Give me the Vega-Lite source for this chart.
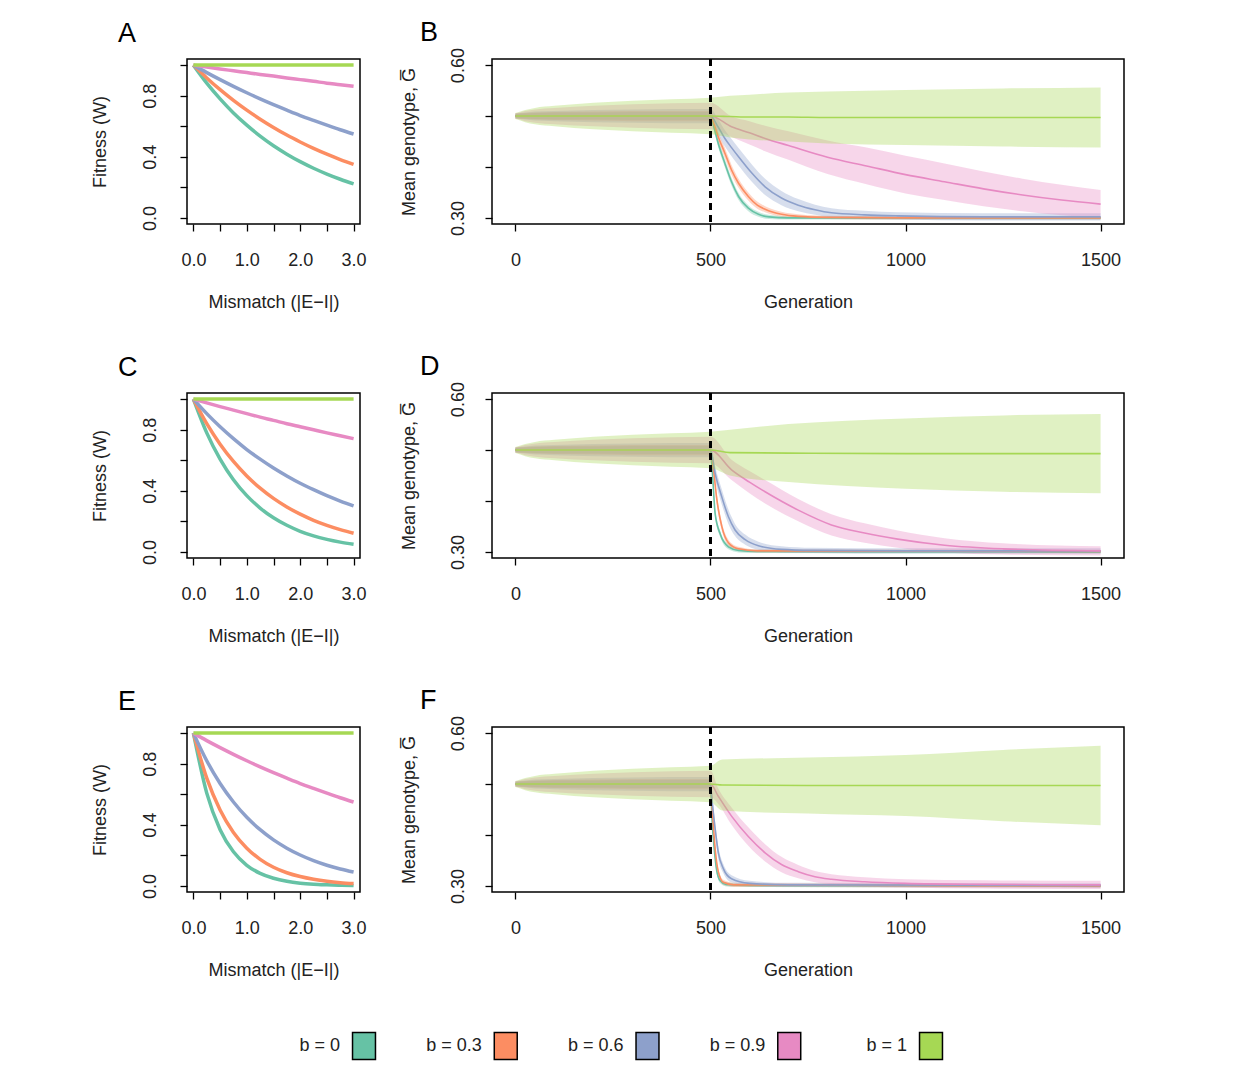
{
  "$schema": "https://vega.github.io/schema/vega-lite/v6.json",
  "background": "white",
  "padding": {"left": 90, "top": 17, "right": 0, "bottom": 0},
  "spacing": 972,
  "bounds": "flush",
  "datasets": {
    "fit": [
      {"p":"A","b":"b = 0","m":0,"w":1},{"p":"A","b":"b = 0","m":0.25,"w":0.882},{"p":"A","b":"b = 0","m":0.5,"w":0.779},{"p":"A","b":"b = 0","m":0.75,"w":0.687},{"p":"A","b":"b = 0","m":1,"w":0.607},{"p":"A","b":"b = 0","m":1.25,"w":0.535},{"p":"A","b":"b = 0","m":1.5,"w":0.472},{"p":"A","b":"b = 0","m":1.75,"w":0.417},{"p":"A","b":"b = 0","m":2,"w":0.368},{"p":"A","b":"b = 0","m":2.25,"w":0.325},{"p":"A","b":"b = 0","m":2.5,"w":0.287},{"p":"A","b":"b = 0","m":2.75,"w":0.253},{"p":"A","b":"b = 0","m":3,"w":0.223},
      {"p":"A","b":"b = 0.3","m":0,"w":1},{"p":"A","b":"b = 0.3","m":0.25,"w":0.916},{"p":"A","b":"b = 0.3","m":0.5,"w":0.839},{"p":"A","b":"b = 0.3","m":0.75,"w":0.769},{"p":"A","b":"b = 0.3","m":1,"w":0.705},{"p":"A","b":"b = 0.3","m":1.25,"w":0.646},{"p":"A","b":"b = 0.3","m":1.5,"w":0.592},{"p":"A","b":"b = 0.3","m":1.75,"w":0.542},{"p":"A","b":"b = 0.3","m":2,"w":0.497},{"p":"A","b":"b = 0.3","m":2.25,"w":0.455},{"p":"A","b":"b = 0.3","m":2.5,"w":0.417},{"p":"A","b":"b = 0.3","m":2.75,"w":0.382},{"p":"A","b":"b = 0.3","m":3,"w":0.35},
      {"p":"A","b":"b = 0.6","m":0,"w":1},{"p":"A","b":"b = 0.6","m":0.25,"w":0.951},{"p":"A","b":"b = 0.6","m":0.5,"w":0.905},{"p":"A","b":"b = 0.6","m":0.75,"w":0.861},{"p":"A","b":"b = 0.6","m":1,"w":0.819},{"p":"A","b":"b = 0.6","m":1.25,"w":0.779},{"p":"A","b":"b = 0.6","m":1.5,"w":0.741},{"p":"A","b":"b = 0.6","m":1.75,"w":0.705},{"p":"A","b":"b = 0.6","m":2,"w":0.67},{"p":"A","b":"b = 0.6","m":2.25,"w":0.638},{"p":"A","b":"b = 0.6","m":2.5,"w":0.607},{"p":"A","b":"b = 0.6","m":2.75,"w":0.577},{"p":"A","b":"b = 0.6","m":3,"w":0.549},
      {"p":"A","b":"b = 0.9","m":0,"w":1},{"p":"A","b":"b = 0.9","m":0.25,"w":0.988},{"p":"A","b":"b = 0.9","m":0.5,"w":0.975},{"p":"A","b":"b = 0.9","m":0.75,"w":0.963},{"p":"A","b":"b = 0.9","m":1,"w":0.951},{"p":"A","b":"b = 0.9","m":1.25,"w":0.939},{"p":"A","b":"b = 0.9","m":1.5,"w":0.928},{"p":"A","b":"b = 0.9","m":1.75,"w":0.916},{"p":"A","b":"b = 0.9","m":2,"w":0.905},{"p":"A","b":"b = 0.9","m":2.25,"w":0.894},{"p":"A","b":"b = 0.9","m":2.5,"w":0.882},{"p":"A","b":"b = 0.9","m":2.75,"w":0.872},{"p":"A","b":"b = 0.9","m":3,"w":0.861},
      {"p":"A","b":"b = 1","m":0,"w":1},{"p":"A","b":"b = 1","m":1,"w":1},{"p":"A","b":"b = 1","m":2,"w":1},{"p":"A","b":"b = 1","m":3,"w":1},
      {"p":"C","b":"b = 0","m":0,"w":1},{"p":"C","b":"b = 0","m":0.25,"w":0.779},{"p":"C","b":"b = 0","m":0.5,"w":0.607},{"p":"C","b":"b = 0","m":0.75,"w":0.472},{"p":"C","b":"b = 0","m":1,"w":0.368},{"p":"C","b":"b = 0","m":1.25,"w":0.287},{"p":"C","b":"b = 0","m":1.5,"w":0.223},{"p":"C","b":"b = 0","m":1.75,"w":0.174},{"p":"C","b":"b = 0","m":2,"w":0.135},{"p":"C","b":"b = 0","m":2.25,"w":0.105},{"p":"C","b":"b = 0","m":2.5,"w":0.082},{"p":"C","b":"b = 0","m":2.75,"w":0.064},{"p":"C","b":"b = 0","m":3,"w":0.05},
      {"p":"C","b":"b = 0.3","m":0,"w":1},{"p":"C","b":"b = 0.3","m":0.25,"w":0.839},{"p":"C","b":"b = 0.3","m":0.5,"w":0.705},{"p":"C","b":"b = 0.3","m":0.75,"w":0.592},{"p":"C","b":"b = 0.3","m":1,"w":0.497},{"p":"C","b":"b = 0.3","m":1.25,"w":0.417},{"p":"C","b":"b = 0.3","m":1.5,"w":0.35},{"p":"C","b":"b = 0.3","m":1.75,"w":0.294},{"p":"C","b":"b = 0.3","m":2,"w":0.247},{"p":"C","b":"b = 0.3","m":2.25,"w":0.207},{"p":"C","b":"b = 0.3","m":2.5,"w":0.174},{"p":"C","b":"b = 0.3","m":2.75,"w":0.146},{"p":"C","b":"b = 0.3","m":3,"w":0.122},
      {"p":"C","b":"b = 0.6","m":0,"w":1},{"p":"C","b":"b = 0.6","m":0.25,"w":0.905},{"p":"C","b":"b = 0.6","m":0.5,"w":0.819},{"p":"C","b":"b = 0.6","m":0.75,"w":0.741},{"p":"C","b":"b = 0.6","m":1,"w":0.67},{"p":"C","b":"b = 0.6","m":1.25,"w":0.607},{"p":"C","b":"b = 0.6","m":1.5,"w":0.549},{"p":"C","b":"b = 0.6","m":1.75,"w":0.497},{"p":"C","b":"b = 0.6","m":2,"w":0.449},{"p":"C","b":"b = 0.6","m":2.25,"w":0.407},{"p":"C","b":"b = 0.6","m":2.5,"w":0.368},{"p":"C","b":"b = 0.6","m":2.75,"w":0.333},{"p":"C","b":"b = 0.6","m":3,"w":0.301},
      {"p":"C","b":"b = 0.9","m":0,"w":1},{"p":"C","b":"b = 0.9","m":0.25,"w":0.975},{"p":"C","b":"b = 0.9","m":0.5,"w":0.951},{"p":"C","b":"b = 0.9","m":0.75,"w":0.928},{"p":"C","b":"b = 0.9","m":1,"w":0.905},{"p":"C","b":"b = 0.9","m":1.25,"w":0.882},{"p":"C","b":"b = 0.9","m":1.5,"w":0.861},{"p":"C","b":"b = 0.9","m":1.75,"w":0.839},{"p":"C","b":"b = 0.9","m":2,"w":0.819},{"p":"C","b":"b = 0.9","m":2.25,"w":0.799},{"p":"C","b":"b = 0.9","m":2.5,"w":0.779},{"p":"C","b":"b = 0.9","m":2.75,"w":0.76},{"p":"C","b":"b = 0.9","m":3,"w":0.741},
      {"p":"C","b":"b = 1","m":0,"w":1},{"p":"C","b":"b = 1","m":1,"w":1},{"p":"C","b":"b = 1","m":2,"w":1},{"p":"C","b":"b = 1","m":3,"w":1},
      {"p":"E","b":"b = 0","m":0,"w":1},{"p":"E","b":"b = 0","m":0.25,"w":0.607},{"p":"E","b":"b = 0","m":0.5,"w":0.368},{"p":"E","b":"b = 0","m":0.75,"w":0.223},{"p":"E","b":"b = 0","m":1,"w":0.135},{"p":"E","b":"b = 0","m":1.25,"w":0.082},{"p":"E","b":"b = 0","m":1.5,"w":0.05},{"p":"E","b":"b = 0","m":1.75,"w":0.03},{"p":"E","b":"b = 0","m":2,"w":0.018},{"p":"E","b":"b = 0","m":2.25,"w":0.011},{"p":"E","b":"b = 0","m":2.5,"w":0.007},{"p":"E","b":"b = 0","m":2.75,"w":0.004},{"p":"E","b":"b = 0","m":3,"w":0.002},
      {"p":"E","b":"b = 0.3","m":0,"w":1},{"p":"E","b":"b = 0.3","m":0.25,"w":0.705},{"p":"E","b":"b = 0.3","m":0.5,"w":0.497},{"p":"E","b":"b = 0.3","m":0.75,"w":0.35},{"p":"E","b":"b = 0.3","m":1,"w":0.247},{"p":"E","b":"b = 0.3","m":1.25,"w":0.174},{"p":"E","b":"b = 0.3","m":1.5,"w":0.122},{"p":"E","b":"b = 0.3","m":1.75,"w":0.086},{"p":"E","b":"b = 0.3","m":2,"w":0.061},{"p":"E","b":"b = 0.3","m":2.25,"w":0.043},{"p":"E","b":"b = 0.3","m":2.5,"w":0.03},{"p":"E","b":"b = 0.3","m":2.75,"w":0.021},{"p":"E","b":"b = 0.3","m":3,"w":0.015},
      {"p":"E","b":"b = 0.6","m":0,"w":1},{"p":"E","b":"b = 0.6","m":0.25,"w":0.819},{"p":"E","b":"b = 0.6","m":0.5,"w":0.67},{"p":"E","b":"b = 0.6","m":0.75,"w":0.549},{"p":"E","b":"b = 0.6","m":1,"w":0.449},{"p":"E","b":"b = 0.6","m":1.25,"w":0.368},{"p":"E","b":"b = 0.6","m":1.5,"w":0.301},{"p":"E","b":"b = 0.6","m":1.75,"w":0.247},{"p":"E","b":"b = 0.6","m":2,"w":0.202},{"p":"E","b":"b = 0.6","m":2.25,"w":0.165},{"p":"E","b":"b = 0.6","m":2.5,"w":0.135},{"p":"E","b":"b = 0.6","m":2.75,"w":0.111},{"p":"E","b":"b = 0.6","m":3,"w":0.091},
      {"p":"E","b":"b = 0.9","m":0,"w":1},{"p":"E","b":"b = 0.9","m":0.25,"w":0.951},{"p":"E","b":"b = 0.9","m":0.5,"w":0.905},{"p":"E","b":"b = 0.9","m":0.75,"w":0.861},{"p":"E","b":"b = 0.9","m":1,"w":0.819},{"p":"E","b":"b = 0.9","m":1.25,"w":0.779},{"p":"E","b":"b = 0.9","m":1.5,"w":0.741},{"p":"E","b":"b = 0.9","m":1.75,"w":0.705},{"p":"E","b":"b = 0.9","m":2,"w":0.67},{"p":"E","b":"b = 0.9","m":2.25,"w":0.638},{"p":"E","b":"b = 0.9","m":2.5,"w":0.607},{"p":"E","b":"b = 0.9","m":2.75,"w":0.577},{"p":"E","b":"b = 0.9","m":3,"w":0.549},
      {"p":"E","b":"b = 1","m":0,"w":1},{"p":"E","b":"b = 1","m":1,"w":1},{"p":"E","b":"b = 1","m":2,"w":1},{"p":"E","b":"b = 1","m":3,"w":1}
    ],
    "ts": [
      {"p":"all","b":"b = 0","g":0,"y":0.5,"lo":0.496,"hi":0.504},{"p":"all","b":"b = 0","g":25,"y":0.5,"lo":0.495,"hi":0.505},{"p":"all","b":"b = 0","g":50,"y":0.5,"lo":0.494,"hi":0.506},{"p":"all","b":"b = 0","g":100,"y":0.5,"lo":0.493,"hi":0.507},{"p":"all","b":"b = 0","g":200,"y":0.5,"lo":0.493,"hi":0.507},{"p":"all","b":"b = 0","g":300,"y":0.5,"lo":0.492,"hi":0.508},{"p":"all","b":"b = 0","g":400,"y":0.5,"lo":0.492,"hi":0.508},{"p":"all","b":"b = 0","g":500,"y":0.5,"lo":0.492,"hi":0.508},
      {"p":"all","b":"b = 0.3","g":0,"y":0.5,"lo":0.495,"hi":0.505},{"p":"all","b":"b = 0.3","g":25,"y":0.5,"lo":0.494,"hi":0.506},{"p":"all","b":"b = 0.3","g":50,"y":0.5,"lo":0.493,"hi":0.507},{"p":"all","b":"b = 0.3","g":100,"y":0.5,"lo":0.492,"hi":0.508},{"p":"all","b":"b = 0.3","g":200,"y":0.5,"lo":0.491,"hi":0.509},{"p":"all","b":"b = 0.3","g":300,"y":0.5,"lo":0.49,"hi":0.51},{"p":"all","b":"b = 0.3","g":400,"y":0.5,"lo":0.49,"hi":0.51},{"p":"all","b":"b = 0.3","g":500,"y":0.5,"lo":0.49,"hi":0.51},
      {"p":"all","b":"b = 0.6","g":0,"y":0.5,"lo":0.495,"hi":0.505},{"p":"all","b":"b = 0.6","g":25,"y":0.5,"lo":0.493,"hi":0.507},{"p":"all","b":"b = 0.6","g":50,"y":0.5,"lo":0.491,"hi":0.509},{"p":"all","b":"b = 0.6","g":100,"y":0.5,"lo":0.49,"hi":0.51},{"p":"all","b":"b = 0.6","g":200,"y":0.5,"lo":0.488,"hi":0.512},{"p":"all","b":"b = 0.6","g":300,"y":0.5,"lo":0.487,"hi":0.513},{"p":"all","b":"b = 0.6","g":400,"y":0.5,"lo":0.486,"hi":0.514},{"p":"all","b":"b = 0.6","g":500,"y":0.5,"lo":0.486,"hi":0.514},
      {"p":"all","b":"b = 0.9","g":0,"y":0.5,"lo":0.495,"hi":0.505},{"p":"all","b":"b = 0.9","g":25,"y":0.5,"lo":0.49,"hi":0.51},{"p":"all","b":"b = 0.9","g":50,"y":0.5,"lo":0.487,"hi":0.513},{"p":"all","b":"b = 0.9","g":100,"y":0.5,"lo":0.484,"hi":0.516},{"p":"all","b":"b = 0.9","g":200,"y":0.5,"lo":0.48,"hi":0.52},{"p":"all","b":"b = 0.9","g":300,"y":0.5,"lo":0.477,"hi":0.523},{"p":"all","b":"b = 0.9","g":400,"y":0.5,"lo":0.475,"hi":0.525},{"p":"all","b":"b = 0.9","g":500,"y":0.5,"lo":0.474,"hi":0.526},
      {"p":"all","b":"b = 1","g":0,"y":0.5,"lo":0.494,"hi":0.506},{"p":"all","b":"b = 1","g":25,"y":0.5,"lo":0.488,"hi":0.512},{"p":"all","b":"b = 1","g":50,"y":0.5,"lo":0.484,"hi":0.516},{"p":"all","b":"b = 1","g":100,"y":0.5,"lo":0.48,"hi":0.52},{"p":"all","b":"b = 1","g":200,"y":0.5,"lo":0.474,"hi":0.526},{"p":"all","b":"b = 1","g":300,"y":0.5,"lo":0.47,"hi":0.53},{"p":"all","b":"b = 1","g":400,"y":0.5,"lo":0.467,"hi":0.533},{"p":"all","b":"b = 1","g":500,"y":0.5,"lo":0.464,"hi":0.536},

      {"p":"B","b":"b = 0","g":510,"y":0.475,"lo":0.467,"hi":0.483},{"p":"B","b":"b = 0","g":520,"y":0.446,"lo":0.438,"hi":0.454},{"p":"B","b":"b = 0","g":537,"y":0.407,"lo":0.399,"hi":0.415},{"p":"B","b":"b = 0","g":554,"y":0.371,"lo":0.363,"hi":0.379},{"p":"B","b":"b = 0","g":572,"y":0.342,"lo":0.335,"hi":0.349},{"p":"B","b":"b = 0","g":597,"y":0.319,"lo":0.313,"hi":0.325},{"p":"B","b":"b = 0","g":623,"y":0.307,"lo":0.302,"hi":0.312},{"p":"B","b":"b = 0","g":650,"y":0.302,"lo":0.298,"hi":0.306},{"p":"B","b":"b = 0","g":700,"y":0.3,"lo":0.297,"hi":0.303},{"p":"B","b":"b = 0","g":1000,"y":0.3,"lo":0.297,"hi":0.303},{"p":"B","b":"b = 0","g":1500,"y":0.3,"lo":0.297,"hi":0.303},
      {"p":"B","b":"b = 0.3","g":510,"y":0.482,"lo":0.472,"hi":0.492},{"p":"B","b":"b = 0.3","g":520,"y":0.459,"lo":0.449,"hi":0.469},{"p":"B","b":"b = 0.3","g":537,"y":0.427,"lo":0.417,"hi":0.437},{"p":"B","b":"b = 0.3","g":554,"y":0.394,"lo":0.384,"hi":0.404},{"p":"B","b":"b = 0.3","g":572,"y":0.368,"lo":0.359,"hi":0.377},{"p":"B","b":"b = 0.3","g":597,"y":0.342,"lo":0.334,"hi":0.35},{"p":"B","b":"b = 0.3","g":620,"y":0.325,"lo":0.318,"hi":0.332},{"p":"B","b":"b = 0.3","g":640,"y":0.317,"lo":0.311,"hi":0.323},{"p":"B","b":"b = 0.3","g":682,"y":0.307,"lo":0.302,"hi":0.312},{"p":"B","b":"b = 0.3","g":725,"y":0.303,"lo":0.299,"hi":0.307},{"p":"B","b":"b = 0.3","g":800,"y":0.301,"lo":0.298,"hi":0.304},{"p":"B","b":"b = 0.3","g":1000,"y":0.3,"lo":0.297,"hi":0.303},{"p":"B","b":"b = 0.3","g":1500,"y":0.3,"lo":0.297,"hi":0.303},
      {"p":"B","b":"b = 0.6","g":520,"y":0.478,"lo":0.463,"hi":0.493},{"p":"B","b":"b = 0.6","g":537,"y":0.456,"lo":0.44,"hi":0.472},{"p":"B","b":"b = 0.6","g":554,"y":0.438,"lo":0.421,"hi":0.455},{"p":"B","b":"b = 0.6","g":572,"y":0.42,"lo":0.403,"hi":0.437},{"p":"B","b":"b = 0.6","g":606,"y":0.388,"lo":0.371,"hi":0.405},{"p":"B","b":"b = 0.6","g":640,"y":0.361,"lo":0.345,"hi":0.377},{"p":"B","b":"b = 0.6","g":682,"y":0.339,"lo":0.325,"hi":0.353},{"p":"B","b":"b = 0.6","g":725,"y":0.325,"lo":0.313,"hi":0.337},{"p":"B","b":"b = 0.6","g":768,"y":0.316,"lo":0.306,"hi":0.326},{"p":"B","b":"b = 0.6","g":810,"y":0.31,"lo":0.301,"hi":0.319},{"p":"B","b":"b = 0.6","g":895,"y":0.306,"lo":0.298,"hi":0.314},{"p":"B","b":"b = 0.6","g":980,"y":0.304,"lo":0.297,"hi":0.311},{"p":"B","b":"b = 0.6","g":1200,"y":0.302,"lo":0.295,"hi":0.309},{"p":"B","b":"b = 0.6","g":1500,"y":0.302,"lo":0.295,"hi":0.309},
      {"p":"B","b":"b = 0.9","g":554,"y":0.479,"lo":0.459,"hi":0.499},{"p":"B","b":"b = 0.9","g":600,"y":0.467,"lo":0.444,"hi":0.49},{"p":"B","b":"b = 0.9","g":640,"y":0.456,"lo":0.431,"hi":0.481},{"p":"B","b":"b = 0.9","g":700,"y":0.442,"lo":0.414,"hi":0.47},{"p":"B","b":"b = 0.9","g":800,"y":0.419,"lo":0.386,"hi":0.452},{"p":"B","b":"b = 0.9","g":900,"y":0.402,"lo":0.366,"hi":0.438},{"p":"B","b":"b = 0.9","g":1000,"y":0.385,"lo":0.348,"hi":0.422},{"p":"B","b":"b = 0.9","g":1100,"y":0.371,"lo":0.335,"hi":0.407},{"p":"B","b":"b = 0.9","g":1200,"y":0.357,"lo":0.323,"hi":0.391},{"p":"B","b":"b = 0.9","g":1300,"y":0.345,"lo":0.313,"hi":0.377},{"p":"B","b":"b = 0.9","g":1400,"y":0.335,"lo":0.305,"hi":0.365},{"p":"B","b":"b = 0.9","g":1500,"y":0.327,"lo":0.299,"hi":0.355},
      {"p":"B","b":"b = 1","g":550,"y":0.499,"lo":0.458,"hi":0.54},{"p":"B","b":"b = 1","g":600,"y":0.498,"lo":0.454,"hi":0.542},{"p":"B","b":"b = 1","g":700,"y":0.498,"lo":0.45,"hi":0.546},{"p":"B","b":"b = 1","g":800,"y":0.497,"lo":0.446,"hi":0.548},{"p":"B","b":"b = 1","g":1000,"y":0.497,"lo":0.443,"hi":0.551},{"p":"B","b":"b = 1","g":1250,"y":0.497,"lo":0.44,"hi":0.554},{"p":"B","b":"b = 1","g":1500,"y":0.497,"lo":0.438,"hi":0.556},

      {"p":"D","b":"b = 0","g":505,"y":0.455,"lo":0.447,"hi":0.463},{"p":"D","b":"b = 0","g":512,"y":0.375,"lo":0.367,"hi":0.383},{"p":"D","b":"b = 0","g":525,"y":0.335,"lo":0.329,"hi":0.341},{"p":"D","b":"b = 0","g":546,"y":0.31,"lo":0.305,"hi":0.315},{"p":"D","b":"b = 0","g":572,"y":0.303,"lo":0.299,"hi":0.307},{"p":"D","b":"b = 0","g":620,"y":0.301,"lo":0.298,"hi":0.304},{"p":"D","b":"b = 0","g":1500,"y":0.3,"lo":0.297,"hi":0.303},
      {"p":"D","b":"b = 0.3","g":508,"y":0.46,"lo":0.45,"hi":0.47},{"p":"D","b":"b = 0.3","g":516,"y":0.405,"lo":0.395,"hi":0.415},{"p":"D","b":"b = 0.3","g":529,"y":0.35,"lo":0.342,"hi":0.358},{"p":"D","b":"b = 0.3","g":546,"y":0.318,"lo":0.312,"hi":0.324},{"p":"D","b":"b = 0.3","g":572,"y":0.306,"lo":0.302,"hi":0.31},{"p":"D","b":"b = 0.3","g":620,"y":0.302,"lo":0.299,"hi":0.305},{"p":"D","b":"b = 0.3","g":1500,"y":0.301,"lo":0.298,"hi":0.304},
      {"p":"D","b":"b = 0.6","g":512,"y":0.454,"lo":0.44,"hi":0.468},{"p":"D","b":"b = 0.6","g":529,"y":0.408,"lo":0.393,"hi":0.423},{"p":"D","b":"b = 0.6","g":546,"y":0.369,"lo":0.355,"hi":0.383},{"p":"D","b":"b = 0.6","g":563,"y":0.343,"lo":0.331,"hi":0.355},{"p":"D","b":"b = 0.6","g":589,"y":0.324,"lo":0.314,"hi":0.334},{"p":"D","b":"b = 0.6","g":623,"y":0.312,"lo":0.304,"hi":0.32},{"p":"D","b":"b = 0.6","g":682,"y":0.305,"lo":0.299,"hi":0.311},{"p":"D","b":"b = 0.6","g":760,"y":0.303,"lo":0.298,"hi":0.308},{"p":"D","b":"b = 0.6","g":1000,"y":0.302,"lo":0.297,"hi":0.307},{"p":"D","b":"b = 0.6","g":1500,"y":0.302,"lo":0.297,"hi":0.307},
      {"p":"D","b":"b = 0.9","g":554,"y":0.461,"lo":0.441,"hi":0.481},{"p":"D","b":"b = 0.9","g":600,"y":0.437,"lo":0.415,"hi":0.459},{"p":"D","b":"b = 0.9","g":640,"y":0.418,"lo":0.395,"hi":0.441},{"p":"D","b":"b = 0.9","g":725,"y":0.382,"lo":0.36,"hi":0.404},{"p":"D","b":"b = 0.9","g":810,"y":0.353,"lo":0.332,"hi":0.374},{"p":"D","b":"b = 0.9","g":895,"y":0.337,"lo":0.318,"hi":0.356},{"p":"D","b":"b = 0.9","g":980,"y":0.325,"lo":0.308,"hi":0.342},{"p":"D","b":"b = 0.9","g":1100,"y":0.313,"lo":0.299,"hi":0.327},{"p":"D","b":"b = 0.9","g":1250,"y":0.306,"lo":0.295,"hi":0.317},{"p":"D","b":"b = 0.9","g":1500,"y":0.302,"lo":0.293,"hi":0.311},
      {"p":"D","b":"b = 1","g":550,"y":0.495,"lo":0.45,"hi":0.54},{"p":"D","b":"b = 1","g":700,"y":0.494,"lo":0.437,"hi":0.551},{"p":"D","b":"b = 1","g":1000,"y":0.493,"lo":0.424,"hi":0.562},{"p":"D","b":"b = 1","g":1250,"y":0.493,"lo":0.418,"hi":0.568},{"p":"D","b":"b = 1","g":1500,"y":0.493,"lo":0.415,"hi":0.571},

      {"p":"F","b":"b = 0","g":504,"y":0.43,"lo":0.422,"hi":0.438},{"p":"F","b":"b = 0","g":510,"y":0.37,"lo":0.363,"hi":0.377},{"p":"F","b":"b = 0","g":516,"y":0.33,"lo":0.324,"hi":0.336},{"p":"F","b":"b = 0","g":525,"y":0.31,"lo":0.305,"hi":0.315},{"p":"F","b":"b = 0","g":540,"y":0.303,"lo":0.299,"hi":0.307},{"p":"F","b":"b = 0","g":600,"y":0.301,"lo":0.298,"hi":0.304},{"p":"F","b":"b = 0","g":1500,"y":0.3,"lo":0.297,"hi":0.303},
      {"p":"F","b":"b = 0.3","g":505,"y":0.444,"lo":0.435,"hi":0.453},{"p":"F","b":"b = 0.3","g":512,"y":0.373,"lo":0.365,"hi":0.381},{"p":"F","b":"b = 0.3","g":520,"y":0.328,"lo":0.321,"hi":0.335},{"p":"F","b":"b = 0.3","g":533,"y":0.307,"lo":0.302,"hi":0.312},{"p":"F","b":"b = 0.3","g":560,"y":0.302,"lo":0.298,"hi":0.306},{"p":"F","b":"b = 0.3","g":1500,"y":0.3,"lo":0.297,"hi":0.303},
      {"p":"F","b":"b = 0.6","g":503,"y":0.476,"lo":0.464,"hi":0.488},{"p":"F","b":"b = 0.6","g":512,"y":0.412,"lo":0.399,"hi":0.425},{"p":"F","b":"b = 0.6","g":520,"y":0.366,"lo":0.354,"hi":0.378},{"p":"F","b":"b = 0.6","g":533,"y":0.334,"lo":0.325,"hi":0.343},{"p":"F","b":"b = 0.6","g":554,"y":0.314,"lo":0.307,"hi":0.321},{"p":"F","b":"b = 0.6","g":600,"y":0.305,"lo":0.3,"hi":0.31},{"p":"F","b":"b = 0.6","g":700,"y":0.302,"lo":0.298,"hi":0.306},{"p":"F","b":"b = 0.6","g":1500,"y":0.301,"lo":0.297,"hi":0.305},
      {"p":"F","b":"b = 0.9","g":520,"y":0.476,"lo":0.461,"hi":0.491},{"p":"F","b":"b = 0.9","g":554,"y":0.437,"lo":0.42,"hi":0.454},{"p":"F","b":"b = 0.9","g":597,"y":0.397,"lo":0.379,"hi":0.415},{"p":"F","b":"b = 0.9","g":640,"y":0.365,"lo":0.348,"hi":0.382},{"p":"F","b":"b = 0.9","g":682,"y":0.342,"lo":0.327,"hi":0.357},{"p":"F","b":"b = 0.9","g":725,"y":0.328,"lo":0.315,"hi":0.341},{"p":"F","b":"b = 0.9","g":768,"y":0.318,"lo":0.307,"hi":0.329},{"p":"F","b":"b = 0.9","g":810,"y":0.313,"lo":0.303,"hi":0.323},{"p":"F","b":"b = 0.9","g":895,"y":0.308,"lo":0.299,"hi":0.317},{"p":"F","b":"b = 0.9","g":1000,"y":0.305,"lo":0.297,"hi":0.313},{"p":"F","b":"b = 0.9","g":1200,"y":0.303,"lo":0.295,"hi":0.311},{"p":"F","b":"b = 0.9","g":1500,"y":0.302,"lo":0.294,"hi":0.31},
      {"p":"F","b":"b = 1","g":530,"y":0.498,"lo":0.448,"hi":0.548},{"p":"F","b":"b = 1","g":750,"y":0.497,"lo":0.442,"hi":0.552},{"p":"F","b":"b = 1","g":1000,"y":0.497,"lo":0.437,"hi":0.557},{"p":"F","b":"b = 1","g":1250,"y":0.497,"lo":0.427,"hi":0.567},{"p":"F","b":"b = 1","g":1500,"y":0.497,"lo":0.419,"hi":0.575}
    ],
    "leg": [
      {"b":"b = 0"},{"b":"b = 0.3"},{"b":"b = 0.6"},{"b":"b = 0.9"},{"b":"b = 1"}
    ]
  },
  "vconcat": [
    {
      "spacing": 334,
      "bounds": "flush",
      "vconcat": [
        {
          "spacing": 132,
          "bounds": "flush",
          "hconcat": [
            {
              "title": {"text": "A", "dx": -69, "offset": 10},
              "width": 173, "height": 165,
              "data": {"name": "fit"},
              "transform": [{"filter": "datum.p == 'A'"}],
              "mark": {"type": "line", "strokeWidth": 3.5, "interpolate": "monotone"},
              "encoding": {
                "x": {"field": "m", "type": "quantitative", "title": "Mismatch (|E\u2212I|)", "scale": {"domain": [-0.12, 3.12], "nice": false, "zero": false}, "axis": {"values": [0, 0.5, 1, 1.5, 2, 2.5, 3], "labelExpr": "round(datum.value * 2) % 2 == 0 ? format(datum.value, '.1f') : ''"}},
                "y": {"field": "w", "type": "quantitative", "title": "Fitness (W)", "scale": {"domain": [-0.04, 1.04], "nice": false, "zero": false}, "axis": {"values": [0, 0.2, 0.4, 0.6, 0.8, 1], "labelExpr": "round(datum.value * 10) % 4 == 0 ? format(datum.value, '.1f') : ''"}},
                "color": {"field": "b", "type": "nominal", "scale": {"domain": ["b = 0", "b = 0.3", "b = 0.6", "b = 0.9", "b = 1"], "range": ["#66c2a5", "#fc8d62", "#8da0cb", "#e78ac3", "#a6d854"]}, "legend": null}
              }
            },
            {
              "title": {"text": "B", "dx": -72},
              "width": 632, "height": 165,
              "data": {"name": "ts"},
              "transform": [{"filter": "datum.p == 'B' || datum.p == 'all'"}],
              "encoding": {
                "x": {"field": "g", "type": "quantitative", "title": "Generation", "scale": {"domain": [-60, 1560], "nice": false, "zero": false}, "axis": {"values": [0, 500, 1000, 1500], "format": "d"}},
                "color": {"field": "b", "type": "nominal", "scale": {"domain": ["b = 0", "b = 0.3", "b = 0.6", "b = 0.9", "b = 1"], "range": ["#66c2a5", "#fc8d62", "#8da0cb", "#e78ac3", "#a6d854"]}, "legend": null}
              },
              "layer": [
                {"transform": [{"filter": "datum.b != 'b = 1'"}], "mark": {"type": "area", "opacity": 0.35, "interpolate": "monotone", "clip": true}, "encoding": {"y": {"field": "lo", "type": "quantitative", "stack": null, "title": "Mean genotype, G\u0305", "scale": {"domain": [0.288, 0.612], "nice": false, "zero": false}, "axis": {"values": [0.3, 0.35, 0.4, 0.45, 0.5, 0.55, 0.6], "labelPadding": 18, "titlePadding": 31, "labelExpr": "round(datum.value * 100) % 15 == 0 ? format(datum.value, '.2f') : ''"}}, "y2": {"field": "hi"}}},
                {"transform": [{"filter": "datum.b != 'b = 1'"}], "mark": {"type": "line", "strokeWidth": 1.6, "interpolate": "monotone", "clip": true}, "encoding": {"y": {"field": "y", "type": "quantitative", "title": "Mean genotype, G\u0305"}}},
                {"transform": [{"filter": "datum.b == 'b = 1'"}], "mark": {"type": "area", "opacity": 0.35, "interpolate": "monotone", "clip": true}, "encoding": {"y": {"field": "lo", "type": "quantitative", "stack": null, "title": "Mean genotype, G\u0305"}, "y2": {"field": "hi"}}},
                {"transform": [{"filter": "datum.b == 'b = 1'"}], "mark": {"type": "line", "strokeWidth": 1.6, "interpolate": "monotone", "clip": true}, "encoding": {"y": {"field": "y", "type": "quantitative", "title": "Mean genotype, G\u0305"}}},
                {"mark": {"type": "rule", "strokeWidth": 2, "strokeDash": [7, 5]}, "encoding": {"x": {"datum": 500, "type": "quantitative"}, "color": {"value": "black"}}}
              ]
            }
          ]
        },
        {
          "spacing": 132,
          "bounds": "flush",
          "hconcat": [
            {
              "title": {"text": "C", "dx": -69, "offset": 10},
              "width": 173, "height": 165,
              "data": {"name": "fit"},
              "transform": [{"filter": "datum.p == 'C'"}],
              "mark": {"type": "line", "strokeWidth": 3.5, "interpolate": "monotone"},
              "encoding": {
                "x": {"field": "m", "type": "quantitative", "title": "Mismatch (|E\u2212I|)", "scale": {"domain": [-0.12, 3.12], "nice": false, "zero": false}, "axis": {"values": [0, 0.5, 1, 1.5, 2, 2.5, 3], "labelExpr": "round(datum.value * 2) % 2 == 0 ? format(datum.value, '.1f') : ''"}},
                "y": {"field": "w", "type": "quantitative", "title": "Fitness (W)", "scale": {"domain": [-0.04, 1.04], "nice": false, "zero": false}, "axis": {"values": [0, 0.2, 0.4, 0.6, 0.8, 1], "labelExpr": "round(datum.value * 10) % 4 == 0 ? format(datum.value, '.1f') : ''"}},
                "color": {"field": "b", "type": "nominal", "scale": {"domain": ["b = 0", "b = 0.3", "b = 0.6", "b = 0.9", "b = 1"], "range": ["#66c2a5", "#fc8d62", "#8da0cb", "#e78ac3", "#a6d854"]}, "legend": null}
              }
            },
            {
              "title": {"text": "D", "dx": -72},
              "width": 632, "height": 165,
              "data": {"name": "ts"},
              "transform": [{"filter": "datum.p == 'D' || datum.p == 'all'"}],
              "encoding": {
                "x": {"field": "g", "type": "quantitative", "title": "Generation", "scale": {"domain": [-60, 1560], "nice": false, "zero": false}, "axis": {"values": [0, 500, 1000, 1500], "format": "d"}},
                "color": {"field": "b", "type": "nominal", "scale": {"domain": ["b = 0", "b = 0.3", "b = 0.6", "b = 0.9", "b = 1"], "range": ["#66c2a5", "#fc8d62", "#8da0cb", "#e78ac3", "#a6d854"]}, "legend": null}
              },
              "layer": [
                {"transform": [{"filter": "datum.b != 'b = 1'"}], "mark": {"type": "area", "opacity": 0.35, "interpolate": "monotone", "clip": true}, "encoding": {"y": {"field": "lo", "type": "quantitative", "stack": null, "title": "Mean genotype, G\u0305", "scale": {"domain": [0.288, 0.612], "nice": false, "zero": false}, "axis": {"values": [0.3, 0.35, 0.4, 0.45, 0.5, 0.55, 0.6], "labelPadding": 18, "titlePadding": 31, "labelExpr": "round(datum.value * 100) % 15 == 0 ? format(datum.value, '.2f') : ''"}}, "y2": {"field": "hi"}}},
                {"transform": [{"filter": "datum.b != 'b = 1'"}], "mark": {"type": "line", "strokeWidth": 1.6, "interpolate": "monotone", "clip": true}, "encoding": {"y": {"field": "y", "type": "quantitative", "title": "Mean genotype, G\u0305"}}},
                {"transform": [{"filter": "datum.b == 'b = 1'"}], "mark": {"type": "area", "opacity": 0.35, "interpolate": "monotone", "clip": true}, "encoding": {"y": {"field": "lo", "type": "quantitative", "stack": null, "title": "Mean genotype, G\u0305"}, "y2": {"field": "hi"}}},
                {"transform": [{"filter": "datum.b == 'b = 1'"}], "mark": {"type": "line", "strokeWidth": 1.6, "interpolate": "monotone", "clip": true}, "encoding": {"y": {"field": "y", "type": "quantitative", "title": "Mean genotype, G\u0305"}}},
                {"mark": {"type": "rule", "strokeWidth": 2, "strokeDash": [7, 5]}, "encoding": {"x": {"datum": 500, "type": "quantitative"}, "color": {"value": "black"}}}
              ]
            }
          ]
        },
        {
          "spacing": 132,
          "bounds": "flush",
          "hconcat": [
            {
              "title": {"text": "E", "dx": -69, "offset": 10},
              "width": 173, "height": 165,
              "data": {"name": "fit"},
              "transform": [{"filter": "datum.p == 'E'"}],
              "mark": {"type": "line", "strokeWidth": 3.5, "interpolate": "monotone"},
              "encoding": {
                "x": {"field": "m", "type": "quantitative", "title": "Mismatch (|E\u2212I|)", "scale": {"domain": [-0.12, 3.12], "nice": false, "zero": false}, "axis": {"values": [0, 0.5, 1, 1.5, 2, 2.5, 3], "labelExpr": "round(datum.value * 2) % 2 == 0 ? format(datum.value, '.1f') : ''"}},
                "y": {"field": "w", "type": "quantitative", "title": "Fitness (W)", "scale": {"domain": [-0.04, 1.04], "nice": false, "zero": false}, "axis": {"values": [0, 0.2, 0.4, 0.6, 0.8, 1], "labelExpr": "round(datum.value * 10) % 4 == 0 ? format(datum.value, '.1f') : ''"}},
                "color": {"field": "b", "type": "nominal", "scale": {"domain": ["b = 0", "b = 0.3", "b = 0.6", "b = 0.9", "b = 1"], "range": ["#66c2a5", "#fc8d62", "#8da0cb", "#e78ac3", "#a6d854"]}, "legend": null}
              }
            },
            {
              "title": {"text": "F", "dx": -72},
              "width": 632, "height": 165,
              "data": {"name": "ts"},
              "transform": [{"filter": "datum.p == 'F' || datum.p == 'all'"}],
              "encoding": {
                "x": {"field": "g", "type": "quantitative", "title": "Generation", "scale": {"domain": [-60, 1560], "nice": false, "zero": false}, "axis": {"values": [0, 500, 1000, 1500], "format": "d"}},
                "color": {"field": "b", "type": "nominal", "scale": {"domain": ["b = 0", "b = 0.3", "b = 0.6", "b = 0.9", "b = 1"], "range": ["#66c2a5", "#fc8d62", "#8da0cb", "#e78ac3", "#a6d854"]}, "legend": null}
              },
              "layer": [
                {"transform": [{"filter": "datum.b != 'b = 1'"}], "mark": {"type": "area", "opacity": 0.35, "interpolate": "monotone", "clip": true}, "encoding": {"y": {"field": "lo", "type": "quantitative", "stack": null, "title": "Mean genotype, G\u0305", "scale": {"domain": [0.288, 0.612], "nice": false, "zero": false}, "axis": {"values": [0.3, 0.35, 0.4, 0.45, 0.5, 0.55, 0.6], "labelPadding": 18, "titlePadding": 31, "labelExpr": "round(datum.value * 100) % 15 == 0 ? format(datum.value, '.2f') : ''"}}, "y2": {"field": "hi"}}},
                {"transform": [{"filter": "datum.b != 'b = 1'"}], "mark": {"type": "line", "strokeWidth": 1.6, "interpolate": "monotone", "clip": true}, "encoding": {"y": {"field": "y", "type": "quantitative", "title": "Mean genotype, G\u0305"}}},
                {"transform": [{"filter": "datum.b == 'b = 1'"}], "mark": {"type": "area", "opacity": 0.35, "interpolate": "monotone", "clip": true}, "encoding": {"y": {"field": "lo", "type": "quantitative", "stack": null, "title": "Mean genotype, G\u0305"}, "y2": {"field": "hi"}}},
                {"transform": [{"filter": "datum.b == 'b = 1'"}], "mark": {"type": "line", "strokeWidth": 1.6, "interpolate": "monotone", "clip": true}, "encoding": {"y": {"field": "y", "type": "quantitative", "title": "Mean genotype, G\u0305"}}},
                {"mark": {"type": "rule", "strokeWidth": 2, "strokeDash": [7, 5]}, "encoding": {"x": {"datum": 500, "type": "quantitative"}, "color": {"value": "black"}}}
              ]
            }
          ]
        }
      ]
    },
    {
      "width": 760, "height": 30,
      "view": {"stroke": null},
      "data": {"name": "leg"},
      "encoding": {
        "x": {"field": "b", "type": "nominal", "scale": {"type": "point", "padding": 0, "domain": ["b = 0", "b = 0.3", "b = 0.6", "b = 0.9", "b = 1"], "range": [177, 744]}, "axis": null}
      },
      "layer": [
        {"mark": {"type": "point", "shape": "M-0.85,-1L0.85,-1L0.85,1L-0.85,1Z", "size": 729, "filled": true, "opacity": 1, "stroke": "black", "strokeWidth": 1.5}, "encoding": {"color": {"field": "b", "type": "nominal", "scale": {"domain": ["b = 0", "b = 0.3", "b = 0.6", "b = 0.9", "b = 1"], "range": ["#66c2a5", "#fc8d62", "#8da0cb", "#e78ac3", "#a6d854"]}, "legend": null}}},
        {"mark": {"type": "text", "align": "right", "dx": -24, "fontSize": 18, "color": "#222"}, "encoding": {"text": {"field": "b"}}}
      ]
    }
  ],
  "config": {
    "font": "Liberation Sans",
    "view": {"stroke": "black", "strokeWidth": 1.5},
    "axis": {"domain": false, "grid": false, "tickColor": "black", "tickSize": 7, "tickWidth": 1.3, "labelFont": "Liberation Sans", "labelFontSize": 18, "labelColor": "#222", "labelFlush": false, "labelOverlap": false, "titleFont": "Liberation Sans", "titleFontSize": 18, "titleFontWeight": "normal", "titleColor": "#222"},
    "axisX": {"labelPadding": 20, "titlePadding": 24},
    "axisY": {"labelAngle": 270, "labelAlign": "center", "labelBaseline": "bottom", "labelPadding": 21, "titlePadding": 32},
    "title": {"fontSize": 27, "fontWeight": "normal", "anchor": "start", "frame": "group", "offset": 1, "color": "black", "font": "Liberation Sans"}
  }
}
